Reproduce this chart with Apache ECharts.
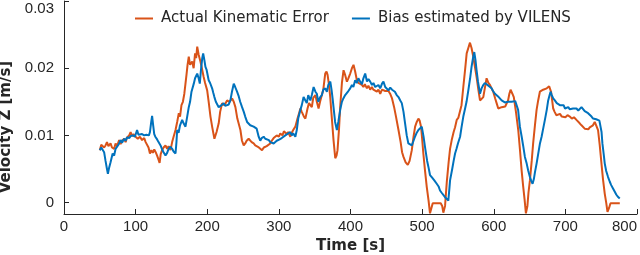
<!DOCTYPE html>
<html>
<head>
<meta charset="utf-8">
<script src="https://cdn.jsdelivr.net/npm/echarts@6/dist/echarts.min.js"></script>
<style>html,body{margin:0;padding:0;background:#fff;}#c{width:640px;height:255px;}</style>
</head>
<body>
<div id="c"></div>
<script>
const seriesNames = ['Actual Kinematic Error', 'Bias estimated by VILENS'];
const xTicks = [0, 100, 200, 300, 400, 500, 600, 700, 800];
const yTicks = [0, 0.01, 0.02, 0.03];

const actualT = [50,52,54,56,58,60,62,65,67,70,72,74,77,79,81,84,86,88,91,93,95,97,100,103,106,109,112,114,116,118,120,122,124,126,128,130,132,133.5,135,137,139,141.7,144,146,148.7,151,153,155.7,158,160.3,162,164,166,168,169.6,171,172.5,174.2,176,179,181,183,184.5,186,188,190.5,192.5,195,197,199.9,202,204.5,207,210,213,216,218,220.8,224,227.7,231,234.7,237,239.3,242,246.3,248.5,250.9,253,255,257.8,260,262,264.8,267,269.5,272,274,276.5,279,281,283,285.7,288,290,292.7,295,297,300,302,305,307,309,311,313,316,318,320,323,326,328,330,332,335,337,340,342,344,346,348,351,353,355.4,357.5,360,362,364.7,366.5,368,370,371.7,374,376.3,378.7,380.5,381.9,384,385.6,388,390.3,392.5,395,397,399.6,402,404.2,406.5,408.9,411,413,415.9,418,420,422.9,425,427.5,429.8,432,434.5,436.8,439,441.5,444,446,448.5,451,453,455.3,458,460.9,463.5,467,470,472,474,477,480,482.5,485.6,488,490.2,492.5,494.8,496.5,498.5,500,501.7,504,506.5,509,511,513,514.8,518,522,526,528,529.6,532,534.4,537,539,541.3,544,546,548.3,550.5,553,555,557.5,560,562.2,564.5,566.8,569,571.4,574,576,578.5,580.8,583,585.4,587.5,590,592.5,594.7,597,599.3,602,604,606.3,609,611,613.2,616,618,620,621.8,623.5,626,628,631,634.2,636.5,638.9,641,643,644.9,647,648.5,650.5,653,655,657.5,659.8,662,664.4,667,669,671.4,674,677.4,680,683,685,687.5,690,692.5,695,697,700,703,706.2,709,712,715.5,718,720,722.5,725,727,729.5,732,734,736.4,738.5,741,743,745.6,748,750.4,752.5,755,757,758.8,761,763,767,771,776];
const actualV = [0.0078,0.0086,0.0088,0.0082,0.0085,0.0090,0.0084,0.0088,0.0082,0.0080,0.0088,0.0084,0.0093,0.0087,0.0092,0.0095,0.0090,0.0097,0.0100,0.0105,0.0099,0.0102,0.0098,0.0095,0.0098,0.0093,0.0096,0.0090,0.0092,0.0082,0.0073,0.0078,0.0074,0.0079,0.0075,0.0070,0.0064,0.0059,0.0072,0.0078,0.0082,0.0085,0.0080,0.0084,0.0078,0.0090,0.0098,0.0108,0.0120,0.0133,0.0128,0.0145,0.0150,0.0162,0.0177,0.0190,0.0205,0.0217,0.0205,0.0210,0.0200,0.0222,0.0215,0.0232,0.0220,0.0210,0.0200,0.0187,0.0178,0.0167,0.0150,0.0128,0.0112,0.0095,0.0105,0.0118,0.0135,0.0148,0.0145,0.0152,0.0150,0.0155,0.0150,0.0142,0.0125,0.0108,0.0092,0.0085,0.0088,0.0092,0.0095,0.0093,0.0090,0.0088,0.0085,0.0086,0.0082,0.0080,0.0078,0.0082,0.0080,0.0084,0.0085,0.0088,0.0092,0.0096,0.0094,0.0100,0.0098,0.0103,0.0100,0.0106,0.0108,0.0102,0.0105,0.0098,0.0104,0.0108,0.0113,0.0125,0.0132,0.0140,0.0135,0.0128,0.0125,0.0140,0.0148,0.0150,0.0142,0.0156,0.0160,0.0150,0.0140,0.0150,0.0152,0.0168,0.0192,0.0195,0.0190,0.0175,0.0157,0.0125,0.0093,0.0066,0.0070,0.0078,0.0110,0.0142,0.0178,0.0197,0.0190,0.0180,0.0185,0.0192,0.0200,0.0205,0.0195,0.0182,0.0178,0.0180,0.0175,0.0172,0.0176,0.0170,0.0174,0.0168,0.0172,0.0168,0.0170,0.0165,0.0168,0.0162,0.0168,0.0170,0.0166,0.0164,0.0166,0.0162,0.0155,0.0142,0.0128,0.0108,0.0090,0.0075,0.0068,0.0060,0.0056,0.0062,0.0078,0.0098,0.0113,0.0120,0.0125,0.0122,0.0113,0.0095,0.0073,0.0048,0.0023,0.0003,-0.0016,-0.0008,-0.0001,-0.0001,-0.0001,-0.0001,-0.0005,-0.0015,-0.0005,0.0030,0.0060,0.0080,0.0093,0.0105,0.0112,0.0123,0.0126,0.0128,0.0145,0.0172,0.0198,0.0222,0.0230,0.0238,0.0230,0.0217,0.0200,0.0187,0.0168,0.0152,0.0150,0.0157,0.0170,0.0185,0.0178,0.0175,0.0170,0.0165,0.0155,0.0148,0.0140,0.0138,0.0142,0.0140,0.0143,0.0145,0.0152,0.0162,0.0168,0.0162,0.0157,0.0135,0.0108,0.0080,0.0048,0.0025,0.0005,-0.0016,-0.0005,0.0015,0.0033,0.0062,0.0088,0.0115,0.0138,0.0152,0.0165,0.0163,0.0168,0.0167,0.0170,0.0173,0.0165,0.0140,0.0135,0.0130,0.0128,0.0132,0.0128,0.0130,0.0127,0.0130,0.0128,0.0125,0.0127,0.0123,0.0124,0.0118,0.0115,0.0116,0.0110,0.0108,0.0109,0.0112,0.0110,0.0115,0.0120,0.0115,0.0108,0.0085,0.0058,0.0035,0.0013,0.0000,-0.0014,-0.0008,-0.0001,-0.0001,-0.0001,-0.0001];

const biasT = [50,52,54,56,58,60,61.3,63,65,67.9,70,72,74,76,79,81,84,86,88,91,93,96,99,102,104,106.5,109,112,115,118.5,120,121.5,123,124.5,126,127.5,130,132,134.8,137,139,141.7,144,146,148.7,151,153,155.7,157,158,160,162,165,167,169.6,172,174.2,176,178,181.2,183,186,188,189.6,191,193,194.3,196,197.5,199,202,204,206.8,208.5,210,212,214,216,218,220,223,225,227.6,230,232.3,234.5,237,239,241.6,244,246,248.6,251,253,255.6,258,260,262,264.8,267,269,271.8,274,276,278.8,281,283,286,288,290,292.7,295,297,299,301,304,306.6,309,311,313,316,318,320,323,325,327,330,332,334.5,337,339,341,344,346,348.5,351,353,355,357.7,360,362,364.8,367,369,371.8,373.5,375,376.3,378.5,381,383,385.6,388,390,392.6,395,397,399.6,402,404,406.5,409,411,413.5,416,418,420.5,423,425,427.5,430,432,434.5,436.8,439,441.5,444,446,448.5,451,453,455.5,458,460,462,464.5,467,469.5,471.6,474,476.2,478.5,480.8,483,485.6,488,490,492.5,494.8,497,499.5,502,504,507,509,511,514,517,520.4,523,525,527,529.6,532,534.4,536.6,538,539,542,544,546,548,550,553,555,557.5,560,562,564.5,567,569,571,572.8,574.5,576,578,580.8,583,585.4,587.5,590,592.5,594.7,597,599,601.7,604,606,608.6,611,613,615.5,618,620,622.5,625,627.5,630,632,634,636.5,639,641,643.5,646,648,650.5,652.5,654.2,656,657.5,659.8,662,664.5,666.8,669,671.4,674,676,678,679.3,681,683,685.3,688,690,692.3,695,697.5,699.5,701.6,704,706,708.5,710.8,713,715.5,718,720,722.5,724.7,727,729,731.7,734,736.5,738.7,741,743,745.6,747.5,749.4,750.5,751.7,753.5,755,757,759.6,762,764,766.5,769,771,773,775.9];
const biasV = [0.0078,0.0082,0.0080,0.0075,0.0062,0.0050,0.0043,0.0052,0.0060,0.0073,0.0070,0.0080,0.0078,0.0086,0.0093,0.0089,0.0095,0.0092,0.0097,0.0096,0.0099,0.0100,0.0098,0.0108,0.0101,0.0100,0.0102,0.0100,0.0101,0.0100,0.0105,0.0118,0.0129,0.0115,0.0102,0.0098,0.0094,0.0090,0.0085,0.0079,0.0075,0.0070,0.0074,0.0080,0.0083,0.0080,0.0076,0.0073,0.0090,0.0108,0.0104,0.0115,0.0123,0.0118,0.0113,0.0128,0.0142,0.0150,0.0165,0.0177,0.0185,0.0192,0.0185,0.0177,0.0195,0.0215,0.0222,0.0212,0.0202,0.0198,0.0182,0.0178,0.0170,0.0163,0.0157,0.0150,0.0146,0.0142,0.0140,0.0145,0.0148,0.0144,0.0142,0.0146,0.0152,0.0165,0.0177,0.0172,0.0165,0.0158,0.0150,0.0142,0.0135,0.0128,0.0120,0.0118,0.0115,0.0116,0.0113,0.0113,0.0110,0.0098,0.0092,0.0096,0.0098,0.0095,0.0097,0.0093,0.0090,0.0091,0.0088,0.0090,0.0092,0.0091,0.0094,0.0096,0.0098,0.0100,0.0098,0.0103,0.0105,0.0100,0.0103,0.0098,0.0108,0.0125,0.0138,0.0145,0.0157,0.0152,0.0148,0.0160,0.0152,0.0160,0.0172,0.0165,0.0162,0.0150,0.0157,0.0160,0.0168,0.0170,0.0165,0.0175,0.0180,0.0168,0.0155,0.0142,0.0120,0.0108,0.0120,0.0138,0.0150,0.0155,0.0160,0.0158,0.0166,0.0170,0.0175,0.0172,0.0182,0.0178,0.0185,0.0180,0.0176,0.0185,0.0192,0.0180,0.0184,0.0180,0.0175,0.0178,0.0172,0.0172,0.0175,0.0170,0.0177,0.0180,0.0172,0.0170,0.0167,0.0171,0.0168,0.0170,0.0165,0.0160,0.0157,0.0152,0.0148,0.0135,0.0118,0.0100,0.0088,0.0086,0.0085,0.0092,0.0098,0.0104,0.0108,0.0110,0.0113,0.0098,0.0083,0.0062,0.0052,0.0041,0.0037,0.0033,0.0028,0.0024,0.0018,0.0015,0.0013,0.0008,0.0006,0.0003,0.0020,0.0033,0.0050,0.0062,0.0073,0.0080,0.0088,0.0098,0.0112,0.0128,0.0140,0.0150,0.0167,0.0185,0.0202,0.0215,0.0224,0.0212,0.0197,0.0180,0.0162,0.0170,0.0175,0.0178,0.0177,0.0174,0.0172,0.0170,0.0166,0.0162,0.0160,0.0158,0.0157,0.0152,0.0151,0.0149,0.0148,0.0150,0.0152,0.0150,0.0148,0.0151,0.0150,0.0138,0.0113,0.0098,0.0085,0.0068,0.0058,0.0048,0.0038,0.0032,0.0028,0.0035,0.0045,0.0058,0.0072,0.0088,0.0098,0.0110,0.0123,0.0138,0.0152,0.0160,0.0165,0.0160,0.0155,0.0152,0.0148,0.0150,0.0145,0.0143,0.0145,0.0140,0.0140,0.0142,0.0139,0.0141,0.0140,0.0138,0.0140,0.0137,0.0138,0.0142,0.0140,0.0136,0.0137,0.0133,0.0131,0.0128,0.0125,0.0127,0.0124,0.0125,0.0122,0.0123,0.0105,0.0088,0.0072,0.0058,0.0047,0.0038,0.0031,0.0026,0.0021,0.0016,0.0012,0.0009,0.0006];

const colors = ['#D95319', '#0072BD'];
const axisColor = '#262626';

const chart = echarts.init(document.getElementById('c'), null, {renderer: 'canvas'});
chart.setOption({
  animation: false,
  backgroundColor: '#ffffff',
  color: colors,
  grid: {left: 64, right: 3, top: 1, bottom: 41, containLabel: false, outerBoundsMode: 'none'},
  legend: {
    data: seriesNames,
    left: 135, top: 11, padding: 0,
    icon: 'rect', itemWidth: 18, itemHeight: 2, itemGap: 23,
    textStyle: {fontFamily: 'DejaVu Sans', fontSize: 15, color: axisColor, padding: [0, 0, 0, 3]}
  },
  xAxis: {
    type: 'value', min: 0, max: 800, interval: 100,
    name: 'Time [s]', nameLocation: 'middle', nameGap: 22,
    nameTextStyle: {fontFamily: 'DejaVu Sans', fontWeight: 'bold', fontSize: 15, color: axisColor},
    axisLine: {show: true, onZero: false, lineStyle: {color: axisColor, width: 1}},
    axisTick: {show: true, inside: true, length: 5, lineStyle: {color: axisColor}, customValues: xTicks},
    axisLabel: {fontFamily: 'Liberation Sans', fontSize: 15, color: axisColor, margin: 5, customValues: xTicks,
      alignMaxLabel: 'right'},
    splitLine: {show: false}
  },
  yAxis: {
    type: 'value', min: -0.0017, max: 0.03,
    name: 'Velocity Z [m/s]', nameLocation: 'middle', nameGap: 44, nameRotate: 90,
    nameTextStyle: {fontFamily: 'DejaVu Sans', fontWeight: 'bold', fontSize: 15, color: axisColor, padding: [0, 39, 0, 0]},
    axisLine: {show: true, onZero: false, lineStyle: {color: axisColor, width: 1}},
    axisTick: {show: true, inside: true, length: 5, lineStyle: {color: axisColor}, customValues: yTicks},
    axisLabel: {fontFamily: 'Liberation Sans', fontSize: 15, color: axisColor, margin: 10, customValues: yTicks,
      verticalAlignMaxLabel: 'top',
      formatter: v => (v === 0 ? '0' : String(+v.toFixed(2)))},
    splitLine: {show: false}
  },
  series: [
    {name: seriesNames[0], type: 'line', symbol: 'none', lineStyle: {width: 2, color: colors[0]},
     data: actualT.map((t, i) => [t, actualV[i]]), z: 2},
    {name: seriesNames[1], type: 'line', symbol: 'none', lineStyle: {width: 2, color: colors[1]},
     data: biasT.map((t, i) => [t, biasV[i]]), z: 3}
  ]
});
</script>
</body>
</html>
